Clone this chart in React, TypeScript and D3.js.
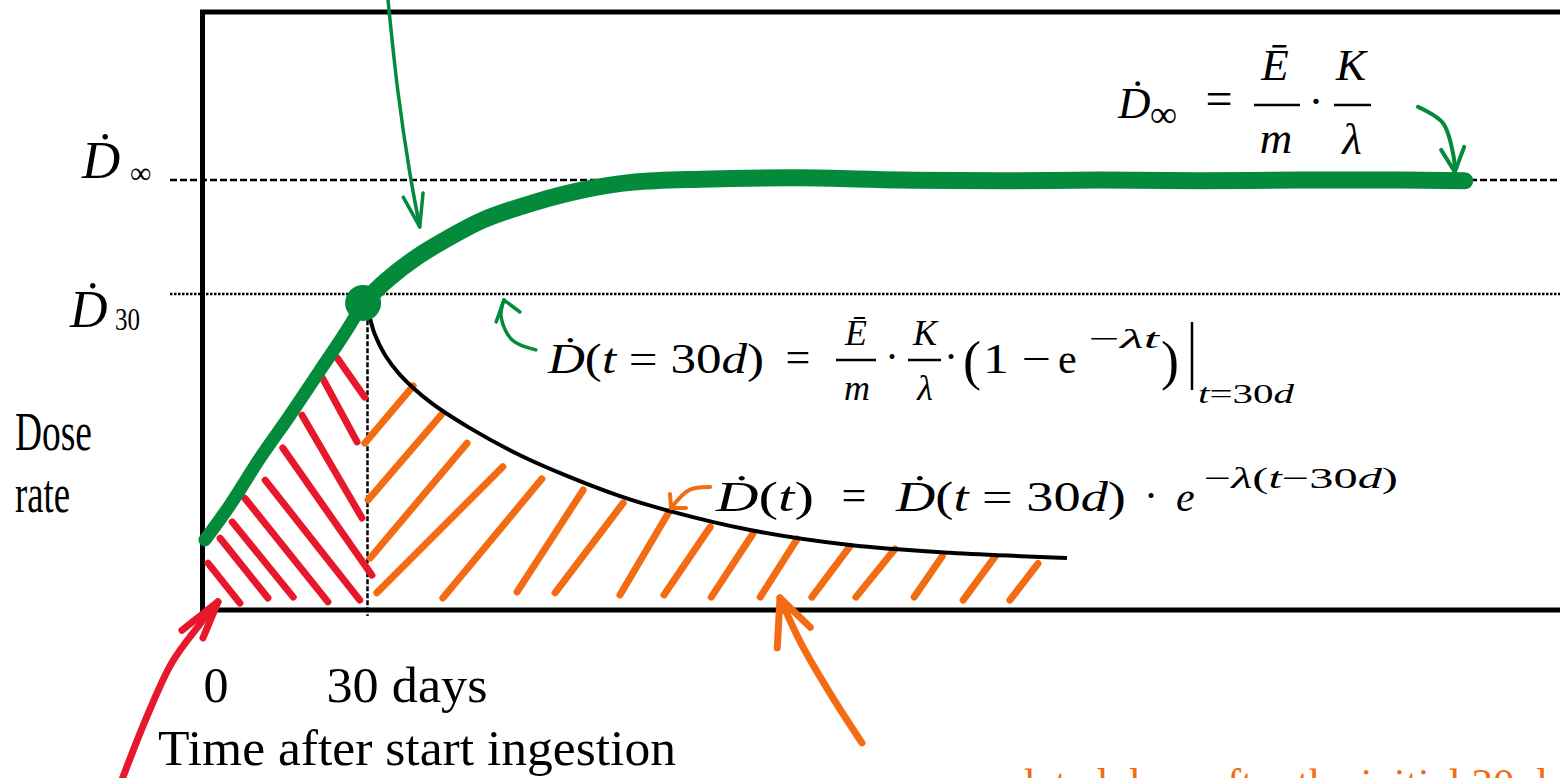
import React from "react";
import * as d3 from "d3";

const W = 1560;
const H = 778;

// Time after start of ingestion (days) and dose rate as a fraction of the equilibrium rate
const axisTicks = [
  { day: 0, label: "0" },
  { day: 30, label: "30 days" },
];
const equilibriumLevel = 1.0;
const day30Level = 0.735;
const doseRateAtDay30 = { day: 29.2, rate: 0.714 };

// build-up during continuous ingestion
const buildupDays = [0.45, 5.0, 10.45, 15.9, 21.4, 25.9, 29.2];
const buildupRate = [0.163, 0.244, 0.353, 0.453, 0.558, 0.644, 0.714];

// continued ingestion: approach to equilibrium
const plateauDays = [29.2, 33.5, 39.0, 45.0, 51.0, 60.1, 69.2, 78.3, 90.5, 108.6, 126.8, 145.0, 163.2, 181.4, 199.5, 217.7, 229.5];
const plateauRate = [0.714, 0.767, 0.821, 0.867, 0.907, 0.947, 0.977, 0.995, 1.002, 1.005, 1.0, 0.998, 1.0, 0.998, 1.0, 1.0, 0.998];

// ingestion stops at day 30: exponential decay
const decayDays = [30.27, 31.36, 33.18, 35.91, 41.36, 48.64, 57.73, 66.82, 75.91, 85.0, 99.55, 117.73, 135.91, 157.18];
const decayRate = [0.688, 0.64, 0.593, 0.547, 0.484, 0.423, 0.36, 0.309, 0.265, 0.23, 0.186, 0.151, 0.133, 0.121];

// hand hatching: [day0, rate0, day1, rate1]
const buildupHatch = [
  [24.5, 0.586, 29.5, 0.495],
  [21.7, 0.542, 28.1, 0.391],
  [18.1, 0.453, 29.0, 0.214],
  [14.6, 0.377, 30.8, 0.081],
  [11.4, 0.302, 28.6, 0.023],
  [7.7, 0.26, 22.8, 0.019],
  [5.4, 0.205, 16.5, 0.03],
  [3.2, 0.167, 11.9, 0.028],
  [1.0, 0.109, 6.8, 0.016],
];
const decayHatch = [
  [29.5, 0.388, 38.3, 0.521],
  [30.1, 0.256, 43.7, 0.458],
  [30.5, 0.121, 48.1, 0.388],
  [31.7, 0.04, 54.6, 0.333],
  [43.7, 0.028, 61.7, 0.305],
  [57.2, 0.042, 69.2, 0.279],
  [64.1, 0.04, 76.5, 0.249],
  [75.9, 0.035, 84.8, 0.228],
  [83.9, 0.035, 92.3, 0.193],
  [92.5, 0.03, 100.1, 0.178],
  [101.4, 0.03, 108.1, 0.165],
  [110.8, 0.03, 117.7, 0.148],
  [118.8, 0.03, 125.9, 0.142],
  [129.4, 0.03, 134.5, 0.125],
  [138.3, 0.023, 144.1, 0.124],
  [146.8, 0.023, 151.9, 0.108],
];

// pointer arrows (day, rate)
const buildupPointer = {
  shaft: [[33.7, 1.423], [35.5, 1.209], [37.7, 1.016], [39.5, 0.891]],
  head: [[36.5, 0.96], [39.5, 0.891], [40.1, 0.97]],
};
const equilibriumPointer = {
  shaft: [[221.0, 1.17], [225.5, 1.133], [227.5, 1.053], [227.7, 1.019]],
  head: [[225.2, 1.07], [227.7, 1.019], [229.4, 1.077]],
};
const day30Pointer = {
  shaft: [[60.6, 0.605], [56.3, 0.628], [54.3, 0.681], [54.8, 0.721]],
  head: [[53.4, 0.67], [54.8, 0.721], [57.7, 0.693]],
};
const decayPointer = {
  shaft: [[92.3, 0.286], [88.5, 0.279], [85.2, 0.237]],
  head: [[85.0, 0.27], [85.2, 0.237], [87.9, 0.237]],
};
const ingestionPointer = {
  shaft: [[-15.0, -0.407], [-10.6, -0.263], [-5.6, -0.123], [-0.6, -0.035], [2.82, 0.019]],
  head: [[-3.73, -0.047], [2.82, 0.019], [0.09, -0.065]],
};
const accumulatedPointer = {
  shaft: [[119.9, -0.309], [114.5, -0.202], [108.8, -0.077], [105.0, 0.028]],
  head: [[104.5, -0.088], [105.0, 0.028], [110.5, -0.04]],
};

const GREEN = "#038a3a";
const RED = "#e8182c";
const ORANGE = "#f36b12";
const SERIF = "'Liberation Serif', 'Times New Roman', serif";

const x = d3.scaleLinear().domain([0, 30]).range([202.5, 367.5]);
const y = d3.scaleLinear().domain([0, 1]).range([610, 180]);

const smooth = d3
  .line<number[]>()
  .x((p) => x(p[0]))
  .y((p) => y(p[1]))
  .curve(d3.curveCatmullRom.alpha(0.5));
const straight = d3
  .line<number[]>()
  .x((p) => x(p[0]))
  .y((p) => y(p[1]));

const zip = (a: number[], b: number[]) => a.map((v, i) => [v, b[i]]);

function Pointer({ p, color, width }: { p: { shaft: number[][]; head: number[][] }; color: string; width: number }) {
  return (
    <g fill="none" stroke={color} strokeWidth={width} strokeLinecap="round" strokeLinejoin="round">
      <path d={smooth(p.shaft) || ""} />
      <path d={straight(p.head) || ""} />
    </g>
  );
}

const it = { fontStyle: "italic" as const };

export default function App() {
  const frameLeft = x(0);
  const frameTop = 12;
  const frameBottom = y(0);

  return (
    <svg
      width={W}
      height={H}
      viewBox={`0 0 ${W} ${H}`}
      style={{ position: "absolute", left: 0, top: 0, background: "#fff" }}
      fontFamily={SERIF}
    >
      <rect width={W} height={H} fill="#fff" />

      {/* reference levels */}
      <line x1={170} x2={W} y1={y(equilibriumLevel)} y2={y(equilibriumLevel)} stroke="#000" strokeWidth={2.5} strokeDasharray="7 3" />
      <line x1={170} x2={W} y1={y(day30Level)} y2={y(day30Level)} stroke="#000" strokeWidth={2.5} strokeDasharray="2.5 1.5" />
      <line x1={x(30)} x2={x(30)} y1={y(0.69)} y2={frameBottom + 6} stroke="#000" strokeWidth={2.5} strokeDasharray="5 2" />

      {/* frame */}
      <path d={`M${W},${frameTop}H${frameLeft}V${frameBottom}H${W}`} fill="none" stroke="#000" strokeWidth={5} />

      {/* hatching */}
      <g stroke={RED} strokeWidth={7} strokeLinecap="round">
        {buildupHatch.map((h, i) => (
          <line key={i} x1={x(h[0])} y1={y(h[1])} x2={x(h[2])} y2={y(h[3])} />
        ))}
      </g>
      <g stroke={ORANGE} strokeWidth={7} strokeLinecap="round">
        {decayHatch.map((h, i) => (
          <line key={i} x1={x(h[0])} y1={y(h[1])} x2={x(h[2])} y2={y(h[3])} />
        ))}
      </g>

      {/* decay after intake stops */}
      <path d={smooth(zip(decayDays, decayRate)) || ""} fill="none" stroke="#000" strokeWidth={4} />

      {/* dose rate during continued intake */}
      <path d={smooth(zip(buildupDays, buildupRate)) || ""} fill="none" stroke={GREEN} strokeWidth={13} strokeLinecap="round" />
      <path d={smooth(zip(plateauDays, plateauRate)) || ""} fill="none" stroke={GREEN} strokeWidth={17} strokeLinecap="round" strokeLinejoin="round" />
      <circle cx={x(doseRateAtDay30.day)} cy={y(doseRateAtDay30.rate)} r={18} fill={GREEN} />

      {/* pointers */}
      <Pointer p={buildupPointer} color={GREEN} width={3.5} />
      <Pointer p={equilibriumPointer} color={GREEN} width={4} />
      <Pointer p={day30Pointer} color={GREEN} width={3.5} />
      <Pointer p={decayPointer} color={ORANGE} width={4} />
      <Pointer p={ingestionPointer} color={RED} width={7} />
      <Pointer p={accumulatedPointer} color={ORANGE} width={7} />

      {/* y labels */}
      <text x={82} y={178} fontSize={53} style={it}>Ḋ</text>
      <text x={130} y={183} fontSize={30}>∞</text>
      <text x={70} y={327} fontSize={52} style={it}>Ḋ</text>
      <text x={115} y={330} fontSize={32} textLength={25} lengthAdjust="spacingAndGlyphs">30</text>
      <text x={15} y={450} fontSize={54} textLength={77} lengthAdjust="spacingAndGlyphs">Dose</text>
      <text x={15} y={512} fontSize={54} textLength={55} lengthAdjust="spacingAndGlyphs">rate</text>

      {/* x labels */}
      <text x={x(axisTicks[0].day) + 1} y={702} fontSize={50}>{axisTicks[0].label}</text>
      <text x={x(axisTicks[1].day) - 41} y={702} fontSize={50} textLength={161} lengthAdjust="spacingAndGlyphs">{axisTicks[1].label}</text>
      <text x={158} y={765} fontSize={50} textLength={518} lengthAdjust="spacingAndGlyphs">Time after start ingestion</text>

      <text x={890} y={798} fontSize={43} fill={ORANGE}>accumulated dose after the initial 30 days</text>

      {/* equilibrium dose rate */}
      <g fontSize={45}>
        <text x={1118} y={118} style={it}>Ḋ</text>
        <text x={1150} y={127} fontSize={38}>∞</text>
        <text x={1219} y={115} textAnchor="middle" fontSize={48}>=</text>
        <text x={1275} y={80} textAnchor="middle" style={it}>Ē</text>
        <line x1={1254} x2={1300} y1={105} y2={105} stroke="#000" strokeWidth={2.5} />
        <text x={1276} y={153} textAnchor="middle" style={it}>m</text>
        <text x={1316} y={116} textAnchor="middle">·</text>
        <text x={1351} y={80} textAnchor="middle" style={it}>K</text>
        <line x1={1334} x2={1371} y1={105} y2={105} stroke="#000" strokeWidth={2.5} />
        <text x={1352} y={154} textAnchor="middle" style={it}>λ</text>
      </g>

      {/* dose rate reached at day 30 */}
      <g fontSize={42}>
        <text x={548} y={373} textLength={216} lengthAdjust="spacingAndGlyphs">
          <tspan style={it}>Ḋ</tspan>(<tspan style={it}>t</tspan> = 30<tspan style={it}>d</tspan>)
        </text>
        <text x={798} y={372} textAnchor="middle" fontSize={44}>=</text>
        <text x={856} y={345} textAnchor="middle" fontSize={36} style={it}>Ē</text>
        <line x1={836} x2={876} y1={360} y2={360} stroke="#000" strokeWidth={2.5} />
        <text x={857} y={400} textAnchor="middle" fontSize={36} style={it}>m</text>
        <text x={892} y={371} textAnchor="middle">·</text>
        <text x={925} y={345} textAnchor="middle" fontSize={36} style={it}>K</text>
        <line x1={908} x2={941} y1={360} y2={360} stroke="#000" strokeWidth={2.5} />
        <text x={925} y={400} textAnchor="middle" fontSize={36} style={it}>λ</text>
        <text x={951} y={371} textAnchor="middle">·</text>
        <text x={963} y={379} fontSize={54}>(</text>
        <text x={983} y={373} textLength={68} lengthAdjust="spacingAndGlyphs">1 − </text>
        <text x={1058} y={373}>e</text>
        <text x={1089} y={348} fontSize={28} textLength={70} lengthAdjust="spacingAndGlyphs">
          −<tspan style={it}>λt</tspan>
        </text>
        <text x={1161} y={379} fontSize={54}>)</text>
        <line x1={1192} x2={1192} y1={322} y2={390} stroke="#000" strokeWidth={2.5} />
        <text x={1198} y={403} fontSize={28} textLength={96} lengthAdjust="spacingAndGlyphs">
          <tspan style={it}>t</tspan>=30<tspan style={it}>d</tspan>
        </text>
      </g>

      {/* decay law */}
      <g fontSize={42}>
        <text x={716} y={511} textLength={98} lengthAdjust="spacingAndGlyphs">
          <tspan style={it}>Ḋ</tspan>(<tspan style={it}>t</tspan>)
        </text>
        <text x={854} y={510} textAnchor="middle" fontSize={44}>=</text>
        <text x={896} y={511} textLength={230} lengthAdjust="spacingAndGlyphs">
          <tspan style={it}>Ḋ</tspan>(<tspan style={it}>t</tspan> = 30<tspan style={it}>d</tspan>)
        </text>
        <text x={1151} y={510} textAnchor="middle">·</text>
        <text x={1176} y={511} style={it}>e</text>
        <text x={1204} y={488} fontSize={30} textLength={194} lengthAdjust="spacingAndGlyphs">
          −<tspan style={it}>λ</tspan>(<tspan style={it}>t</tspan>−30<tspan style={it}>d</tspan>)
        </text>
      </g>
    </svg>
  );
}
